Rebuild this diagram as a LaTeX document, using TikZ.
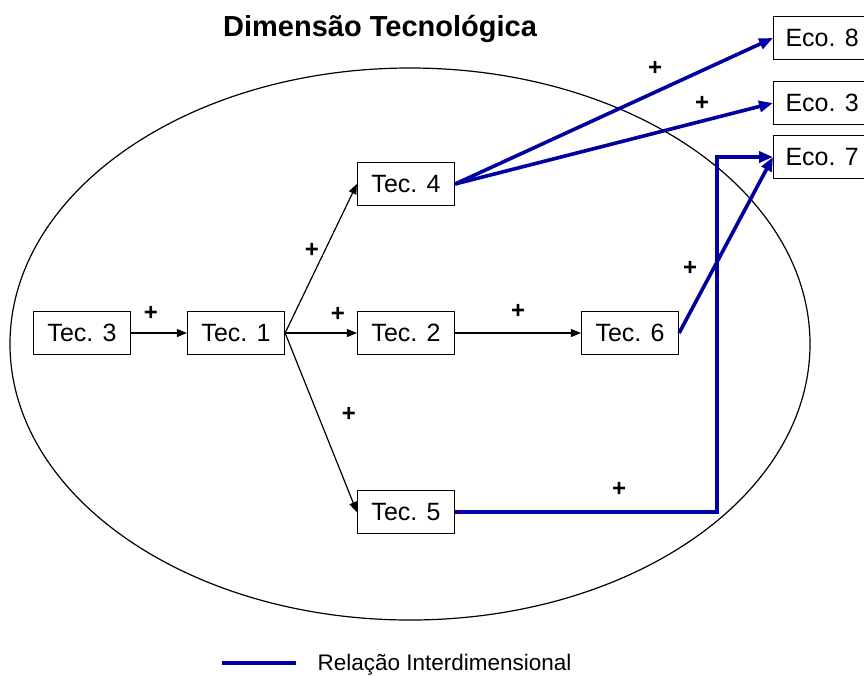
\documentclass[tikz,border=0pt]{standalone}
\usepackage{fontspec}
\setmainfont{Liberation Sans}
\usetikzlibrary{arrows.meta,positioning}
\definecolor{linkblue}{HTML}{0000A0}
\tikzset{
  techbox/.style={draw,line width=1.2pt,minimum width=97pt,minimum height=43pt,inner sep=0pt,font=\fontsize{25}{29}\selectfont},
  plus/.style={font=\fontsize{24}{28}\selectfont\bfseries},
  techlink/.style={line width=1.2pt,-{Triangle[length=10pt,width=8pt]}},
  interlink/.style={linkblue,line width=3.6pt,-{Triangle[length=14pt,width=11pt]}}
}
\begin{document}
\begin{tikzpicture}[x=1pt,y=-1pt]
  \useasboundingbox (0,0) rectangle (864,675);
  % Title and boundary
  \node[font=\fontsize{29}{34}\selectfont\bfseries] (title) at (380,29) {Dimensão Tecnológica};
  \draw[line width=1.2pt] (410,344) ellipse (400pt and 276pt);
  % Technological nodes
  \node[techbox] (tec3) at (82,333) {Tec. 3};
  \node[techbox] (tec1) at (236,333) {Tec. 1};
  \node[techbox] (tec2) at (406,333) {Tec. 2};
  \node[techbox] (tec4) at (406,184) {Tec. 4};
  \node[techbox] (tec5) at (406,512) {Tec. 5};
  \node[techbox] (tec6) at (630,333) {Tec. 6};
  % Economic nodes
  \node[techbox,anchor=west] (eco8) at (773,38) {Eco. 8};
  \node[techbox,anchor=west] (eco3) at (773,103) {Eco. 3};
  \node[techbox,anchor=west] (eco7) at (773,157) {Eco. 7};
  % Links inside the dimension
  \draw[techlink] (tec3) -- (tec1);
  \draw[techlink] (tec1.east) -- (tec4.west);
  \draw[techlink] (tec1) -- (tec2);
  \draw[techlink] (tec1.east) -- (tec5.west);
  \draw[techlink] (tec2) -- (tec6);
  % Interdimensional links
  \coordinate (bend) at (717,512);
  \draw[interlink] (tec4.east) -- (eco8.west);
  \draw[interlink] (tec4.east) -- (eco3.west);
  \draw[interlink] (tec6.east) -- (eco7.west);
  \draw[interlink] (tec5.east) -- (bend) |- (eco7.west);
  % Signs
  \node[plus] at (151,313) {+};
  \node[plus] at (312,250) {+};
  \node[plus] at (338,314) {+};
  \node[plus] at (349,414) {+};
  \node[plus] at (518,311) {+};
  \node[plus] at (655,68) {+};
  \node[plus] at (702,103) {+};
  \node[plus] at (690,268) {+};
  \node[plus] at (619,489) {+};
  % Legend
  \coordinate (legA) at (222,663);
  \coordinate (legB) at (296,663);
  \draw[linkblue,line width=3.6pt] (legA) -- (legB);
  \node[anchor=west,font=\fontsize{22.5}{26}\selectfont] (legtext) at (314,665) {Relação Interdimensional};
\end{tikzpicture}
\end{document}
